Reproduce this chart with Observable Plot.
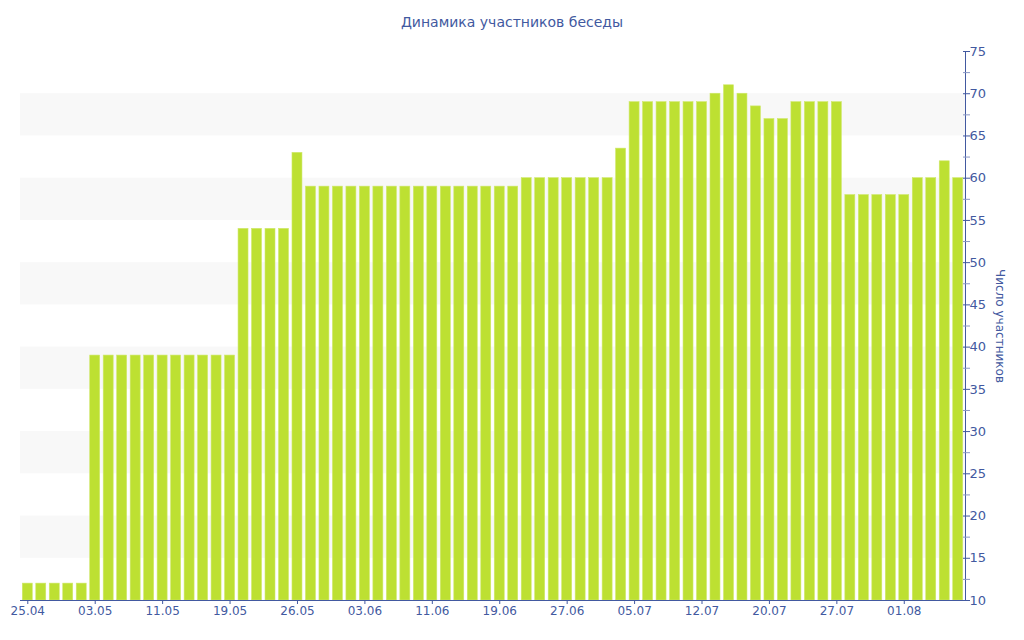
<!DOCTYPE html>
<html>
<head>
<meta charset="utf-8">
<script src="https://cdn.jsdelivr.net/npm/d3@7"></script>
<script src="https://cdn.jsdelivr.net/npm/@observablehq/plot@0.6"></script>
<style>
  body { margin: 0; background: #fff; font-family: "DejaVu Sans", Verdana, sans-serif; }
  #title { height: 40px; line-height: 44px; text-align: center; font-size: 14px; color: #4259a0; }
</style>
</head>
<body>
<div id="title">Динамика участников беседы</div>
<div id="chart"></div>
<script>
const values = [
  12, 12, 12, 12, 12,
  39, 39, 39, 39, 39, 39, 39, 39, 39, 39, 39,
  54, 54, 54, 54,
  63,
  59, 59, 59, 59, 59, 59, 59, 59, 59, 59, 59, 59, 59, 59, 59, 59,
  60, 60, 60, 60, 60, 60, 60,
  63.5,
  69, 69, 69, 69, 69, 69,
  70, 71, 70, 68.5, 67, 67,
  69, 69, 69, 69,
  58, 58, 58, 58, 58,
  60, 60, 62, 60
];
const tickLabels = ["25.04", "03.05", "11.05", "19.05", "26.05", "03.06", "11.06", "19.06", "27.06", "05.07", "12.07", "20.07", "27.07", "01.08"];
const tickEvery = 5;
const yTicks = [10, 15, 20, 25, 30, 35, 40, 45, 50, 55, 60, 65, 70, 75];
const yMinorTicks = [12.5, 17.5, 22.5, 27.5, 32.5, 37.5, 42.5, 47.5, 52.5, 57.5, 62.5, 67.5, 72.5];
const stripeStarts = [15, 25, 35, 45, 55, 65];
const yLabel = "Число участников";

const data = values.map((v, i) => ({i, v}));
const tickIdx = tickLabels.map((_, k) => k * tickEvery);
const color = "#4259a0";

const chart = Plot.plot({
  width: 1024,
  height: 600,
  marginTop: 11,
  marginBottom: 40,
  marginLeft: 20,
  marginRight: 59,
  style: {fontFamily: "DejaVu Sans, Verdana, sans-serif", fontSize: "12px", color: color, background: "#fff"},
  x: {type: "band", domain: d3.range(values.length), paddingInner: 0.26, paddingOuter: 0.17, axis: null},
  y: {domain: [10, 75], axis: null},
  marks: [
    Plot.rectY(stripeStarts, {y1: d => d, y2: d => d + 5, fill: "#f8f8f8"}),
    Plot.barY(data, {x: "i", y1: 10, y2: "v", fill: "#bde032", stroke: "#cfe86a", strokeWidth: 0.6}),
    Plot.ruleY([10], {stroke: color, strokeWidth: 1}),
    Plot.frame({anchor: "right", stroke: color}),
    Plot.axisX({ticks: tickIdx, tickFormat: i => tickLabels[i / tickEvery], tickSize: 4, tickPadding: 2, fill: color, stroke: color, label: null}),
    Plot.axisY({anchor: "right", ticks: yTicks, tickSize: 7, dx: -3, text: null, stroke: color, label: null}),
    Plot.axisY({anchor: "right", ticks: yMinorTicks, tickSize: 7, dx: -3, text: null, stroke: "#8a97c4", label: null}),
    Plot.axisY({anchor: "right", ticks: yTicks, tickSize: 0, tickPadding: 4, fill: color, label: null, fontSize: 13}),
    Plot.text([yLabel], {frameAnchor: "right", textAnchor: "middle", dx: 34, rotate: 90, fill: color, fontSize: 12})
  ]
});
document.getElementById("chart").appendChild(chart);
</script>
</body>
</html>
